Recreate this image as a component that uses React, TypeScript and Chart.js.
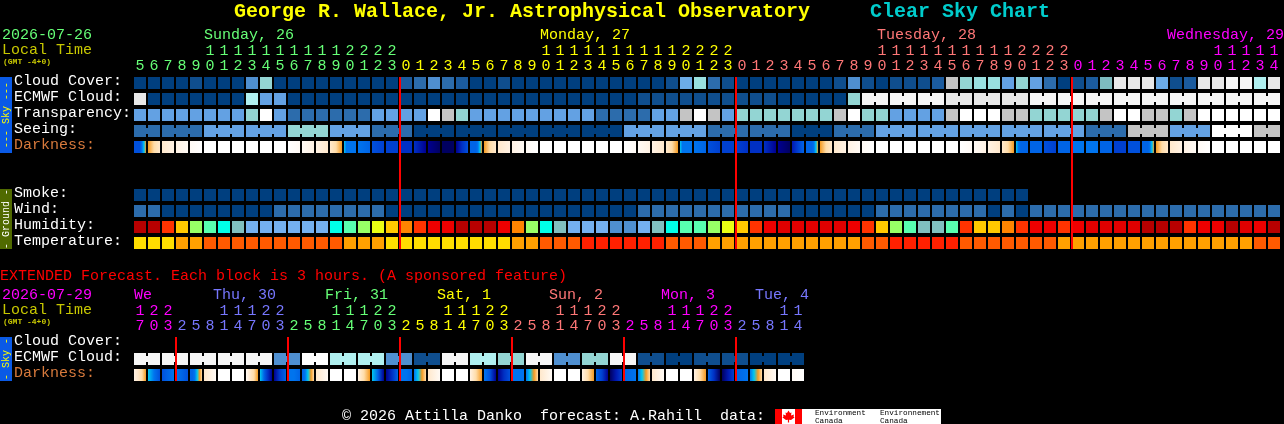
import React, { useEffect, useRef } from "react";
import { Chart, registerables } from "chart.js";

Chart.register(...registerables);

const MONO = '"Liberation Mono", "DejaVu Sans Mono", monospace';

// ---------- hours on the two time axes ----------
const mainHours = [
  5, 6, 7, 8, 9, 10, 11, 12, 13, 14, 15, 16, 17, 18, 19, 20, 21, 22, 23,
  0, 1, 2, 3, 4, 5, 6, 7, 8, 9, 10, 11, 12, 13, 14, 15, 16, 17, 18, 19, 20, 21, 22, 23,
  0, 1, 2, 3, 4, 5, 6, 7, 8, 9, 10, 11, 12, 13, 14, 15, 16, 17, 18, 19, 20, 21, 22, 23,
  0, 1, 2, 3, 4, 5, 6, 7, 8, 9, 10, 11, 12, 13, 14,
];
const extHours = [
  17, 20, 23, 2, 5, 8, 11, 14, 17, 20, 23, 2, 5, 8, 11, 14, 17, 20, 23, 2, 5, 8, 11, 14,
  17, 20, 23, 2, 5, 8, 11, 14, 17, 20, 23, 2, 5, 8, 11, 14, 17, 20, 23, 2, 5, 8, 11, 14,
];

// ---------- rows ----------
const mainRows = ["Cloud Cover:", "ECMWF Cloud:", "Transparency:", "Seeing:", "Darkness:", "", "", "Smoke:", "Wind:", "Humidity:", "Temperature:"];
const extRows = ["Cloud Cover:", "ECMWF Cloud:", "Darkness:"];

// ---------- sky condition levels (index into skyPalette) ----------
const cloudCover = [
  0, 0, 0, 0, 1, 0, 0, 0, 4, 8, 0, 0, 0, 0, 0, 0, 0, 0, 0, 2, 3, 4, 3, 2, 0, 0, 1,
  0, 0, 0, 0, 0, 0, 0, 0, 0, 0, 0, 1, 6, 9, 3, 1, 0, 0, 0, 0, 0, 0, 0, 1, 4, 1, 0,
  1, 1, 1, 2, 11, 8, 9, 9, 5, 8, 5, 3, 0, 1, 2, 7, 12, 12, 12, 6, 1, 2, 12, 12, 13, 13, 10, 12,
];
const ecmwfCloud = [
  12, 0, 0, 0, 0, 0, 0, 0, 10, 5, 5, 0, 0, 0, 0, 0, 0, 0, 0, 0, 0, 0, 0, 0, 0, 0, 0, 0,
  0, 0, 0, 0, 0, 0, 0, 0, 1, 1, 1, 1, 1, 1, 1, 1, 1, 1, 0, 0, 0, 0, 0, 8,
  13, 13, 13, 13, 13, 13, 12, 12, 12, 12, 12, 12,
  13, 13, 13, 13, 13, 13, 13, 13, 13, 13, 13, 13, 13, 13, 13, 13, 13, 13,
];
const ecmwfJoinedCols = [52, 54, 56, 58, 60, 62, 64, 66, 68, 70, 72, 74, 76, 78, 80];
const transparency = [
  5, 5, 5, 5, 5, 5, 5, 5, 8, 14, 5, 3, 3, 3, 3, 3, 3, 5, 5, 5, 5, 14, 11, 8,
  5, 5, 5, 5, 5, 5, 5, 5, 5, 3, 3, 3, 3, 5, 5, 11, 14, 11, 5, 8, 8, 8, 8, 8, 8, 8, 11, 14,
  8, 8, 5, 5, 5, 5, 11, 14, 14, 14, 11, 11, 8, 8, 8, 8, 8, 11, 14, 14, 11, 11, 8, 11,
  14, 14, 14, 14, 14, 14,
];
const seeingBlockSizes = [2, 3, 3, 3, 3, 3, 3, 3, 3, 3, 3, 3, 3, 3, 3, 3, 3, 3, 3, 3, 3, 3, 3, 3, 3, 3, 3, 2];
const seeingBlocks = [3, 3, 5, 5, 8, 5, 3, 0, 0, 0, 0, 0, 5, 5, 3, 3, 0, 3, 5, 5, 5, 5, 5, 3, 11, 5, 14, 11];
const smoke = [
  0, 0, 0, 0, 0, 0, 0, 0, 0, 0, 0, 0, 0, 0, 0, 0, 0, 0, 0, 0, 0, 0, 0, 0, 0, 0, 0, 0, 0, 0, 0, 0,
  0, 0, 0, 0, 0, 0, 0, 0, 0, 0, 0, 0, 0, 0, 0, 0, 0, 0, 0, 0, 0, 0, 0, 0, 0, 0, 0, 0, 0, 0, 0, 0,
];
const wind = [
  3, 3, 0, 0, 0, 0, 0, 0, 0, 0, 3, 3, 3, 3, 3, 3, 3, 3, 0, 0, 0, 0, 0, 0, 0, 0, 0, 0, 0, 0, 0, 0, 0, 0, 0, 0,
  3, 3, 3, 3, 3, 3, 3, 3, 3, 3, 3, 0, 0, 0, 0, 0, 0, 3, 3, 3, 3, 3, 3, 3, 3, 0, 3, 0,
  3, 3, 3, 3, 3, 3, 3, 3, 3, 3, 3, 3, 3, 3, 3, 3, 3, 3,
];
const humidity = [
  0, 0, 3, 5, 7, 8, 9, 10, 11, 11, 11, 11, 11, 11, 9, 8, 7, 6, 5, 4, 3,
  2, 2, 0, 0, 0, 2, 4, 7, 9, 10, 11, 11, 11, 12, 12, 11, 10, 9, 8, 8, 7, 6, 5, 3, 2,
  1, 1, 1, 1, 1, 2,
  3, 5, 7, 8, 10, 10, 8, 3, 5, 5, 4, 3, 2, 2, 3, 2, 1, 1, 1, 1, 0, 0, 0, 3, 2, 2, 0, 1, 2, 0,
];
const temperature = [
  0, 0, 0, 1, 1, 2, 2, 2, 2, 2, 2, 2, 2, 2, 2, 1, 1, 1, 0, 0, 0, 0, 0, 0, 0, 0, 0, 1, 1, 2, 2, 2,
  3, 3, 3, 3, 3, 3, 2, 2, 2, 1, 1, 1, 1, 1, 1, 1, 1, 1, 1, 1, 2, 2, 3, 3, 3, 3, 3, 2, 2, 2, 2, 2, 2, 2,
  1, 1, 1, 1, 1, 1, 1, 1, 1, 1, 1, 1, 1, 1, 2, 2,
];
// Each darkness cell is a run of levels (index into darkPalette) read left to right across the cell.
const darkness = [
  [5, 5, 5, 5, 7, 8, 9], [9, 10, 11], [11, 12], [12, 13], [13, 14], [14], [14], [14], [14], [14], [14],
  [14, 13], [13, 12], [12, 11], [11, 10, 9], [8, 7, 7, 7, 7, 7], [7, 6], [5, 4], [4, 4], [3, 3], [3, 1], [1, 0], [0, 0], [1, 3, 5],
  [6, 6, 6, 6, 7, 8, 9], [9, 10, 11], [11, 12], [12, 13], [13, 14], [14], [14], [14], [14], [14], [14],
  [14, 13], [13, 12], [12, 11], [11, 10, 9], [8, 7, 7, 7, 7, 7], [7, 6], [5, 4], [4, 4], [4, 3], [3, 3], [3, 1], [1, 0], [2, 4, 6],
  [6, 6, 6, 6, 7, 8, 9], [9, 10, 11], [11, 12], [12, 13], [13, 14], [14], [14], [14], [14], [14], [14],
  [14, 13], [13, 12], [12, 11], [11, 10, 9], [8, 7, 6, 6, 6, 6], [6, 6], [5, 4], [6, 6], [7, 7], [7, 7], [6, 6], [4, 4], [5, 5],
  [6, 6, 6, 6, 7, 8, 9], [9, 10, 11], [11, 12], [12, 13], [13, 14], [14], [14], [14], [14], [14],
];
const extEcmwfPairs = [13, 13, 13, 13, 13, 4, 14, 10, 10, 4, 1, 13, 10, 8, 13, 4, 8, 13, 1, 0, 1, 1, 0, 0];
const extDarkness = [
  [12, 11, 10, 9], [8, 7, 5], [5, 6, 7],
  [7, 6, 5], [6, 6, 7, 8, 9, 10], [11, 13], [14], [14], [13, 11, 10, 9], [8, 6, 3, 1], [1, 4, 6],
  [7, 7, 6], [6, 7, 8, 9, 10], [11, 13], [14], [14], [12, 10, 9], [8, 6, 1], [1, 3, 6],
  [7, 7, 6], [7, 8, 9, 10], [11, 13], [14], [14], [12, 10, 9], [7, 5, 1], [1, 3, 5],
  [7, 7], [7, 8, 9, 10], [11, 13], [14], [14], [12, 10, 9], [6, 4, 1], [0, 2, 4],
  [6, 7], [7, 8, 9, 10], [11, 13], [14], [14], [12, 10, 9], [6, 3, 0], [0, 2, 4],
  [6, 7], [7, 8, 9, 10], [11, 13], [14], [13, 14],
];

// ---------- midnight markers and day headers ----------
const mainMidnights = [19, 43, 67];
const extMidnights = [3, 11, 19, 27, 35, 43];
const mainDays = [
  { name: "Sunday, 26", start: 0, labelCol: 5, color: "#66ff77" },
  { name: "Monday, 27", start: 19, labelCol: 29, color: "#ffff00" },
  { name: "Tuesday, 28", start: 43, labelCol: 53.07, color: "#ff7777" },
  { name: "Wednesday, 29", start: 67, labelCol: 73.79, color: "#ff00ff" },
];
const extDays = [
  { name: "We", start: 0, labelCol: 0, color: "#ff00ff" },
  { name: "Thu, 30", start: 3, labelCol: 5.64, color: "#7777ff" },
  { name: "Fri, 31", start: 11, labelCol: 13.64, color: "#66ff77" },
  { name: "Sat, 1", start: 19, labelCol: 21.64, color: "#ffff00" },
  { name: "Sun, 2", start: 27, labelCol: 29.64, color: "#ff7777" },
  { name: "Mon, 3", start: 35, labelCol: 37.64, color: "#ff00ff" },
  { name: "Tue, 4", start: 43, labelCol: 44.36, color: "#7777ff" },
];

// ---------- palettes ----------
const skyPalette = ["#003f7f", "#0f4e8e", "#1b5b9e", "#2c6cac", "#4f8fd0", "#63a1e3", "#6cace8", "#7ebcc0", "#93d5d3", "#99e0e0", "#b0f0f0", "#c4c4c4", "#e8e8e8", "#f6f6f6", "#ffffff"];
const humidityPalette = ["#b80000", "#e00000", "#ee0000", "#ff3300", "#ff8400", "#ffc800", "#eaff14", "#98ff66", "#58ffb0", "#00ffe8", "#80bfbf", "#74b0f0", "#4f8fd0"];
const temperaturePalette = ["#ffdd00", "#ffa000", "#ff5a00", "#ff2000"];
const darkPalette = ["#000060", "#000090", "#0018b0", "#0030c4", "#0040d0", "#0050dc", "#0064e6", "#0074ee", "#00c8f0", "#f59a20", "#ffdca8", "#ffe8cc", "#fff2e4", "#fffaf5", "#ffffff"];

// ---------- geometry of the marks in scale units ----------
const CELL_PX = 12;
const GAP_PX = 2;
const CELL_HALF = 0.375;
const JOIN_HALF = 0.1875;
const LINE_SHIFT = 1 / 14;
const X_MIN = -0.5;
const X_MAX = 81 + 10 / 14;

const expandBlocks = (sizes: number[], values: number[]) => {
  const out: number[] = [];
  sizes.forEach((s, b) => { for (let k = 0; k < s; k++) out.push(values[b]); });
  return out;
};
const blockJoints = (sizes: number[]) => {
  const out: number[] = [];
  let c = 0;
  sizes.forEach((s) => { for (let k = 0; k < s - 1; k++) out.push(c + k); c += s; });
  return out;
};

const barBase = { grouped: false, inflateAmount: 0, borderWidth: 0, borderSkipped: false };

const cellSet = (values: number[], row: number, palette: string[]) => ({
  ...barBase, order: 3, barThickness: CELL_PX,
  data: values.map((_, i) => ({ x: i, y: [row - CELL_HALF, row + CELL_HALF] })),
  backgroundColor: values.map((v) => palette[v]),
});
const jointSet = (values: number[], cols: number[], row: number, palette: string[]) => ({
  ...barBase, order: 2, barThickness: GAP_PX,
  data: cols.map((c) => ({ x: c + 0.5, y: [row - JOIN_HALF, row + JOIN_HALF] })),
  backgroundColor: cols.map((c) => palette[values[c]]),
});
const darkSet = (cells: number[][], row: number) => ({
  ...barBase, order: 3, barThickness: CELL_PX,
  data: cells.map((_, i) => ({ x: i, y: [row - CELL_HALF, row + CELL_HALF] })),
  backgroundColor: (ctx: any) => {
    if (ctx.dataIndex === undefined) return "#000";
    const stops = cells[ctx.dataIndex];
    if (stops.length === 1) return darkPalette[stops[0]];
    const px = ctx.chart.scales.x.getPixelForValue(ctx.dataIndex);
    if (!Number.isFinite(px)) return darkPalette[stops[0]];
    const g = ctx.chart.ctx.createLinearGradient(px - CELL_PX / 2, 0, px + CELL_PX / 2, 0);
    stops.forEach((s: number, k: number) => g.addColorStop(k / (stops.length - 1), darkPalette[s]));
    return g;
  },
});
const midnightSet = (cols: number[], from: number, to: number) => ({
  ...barBase, order: 0, barThickness: GAP_PX,
  data: cols.map((c) => ({ x: c - 0.5 + LINE_SHIFT, y: [from - CELL_HALF, to + CELL_HALF] })),
  backgroundColor: "#ff0000",
});

const hourLabel = (h: number | undefined) => {
  if (h === undefined) return "";
  return h >= 10 ? [String(Math.floor(h / 10)), String(h % 10)] : ["", String(h)];
};
const dayColor = (days: { start: number; color: string }[], col: number) => {
  let c = days[0].color;
  days.forEach((d) => { if (col >= d.start) c = d.color; });
  return c;
};

type Txt = { t: string; x: number; y: number; c: string; f: string; align?: CanvasTextAlign };
type SideBar = { top: number; bottom: number; fill: string; text: string; color: string };

const overlayPlugin = (opts: { originY: number; texts: Txt[]; days: any[]; dayY: number; sides: SideBar[]; logo?: boolean }) => ({
  id: "overlay",
  afterDraw(chart: any) {
    const ctx: CanvasRenderingContext2D = chart.ctx;
    ctx.save();
    ctx.translate(0, -opts.originY);
    ctx.textBaseline = "middle";
    opts.sides.forEach((s) => {
      ctx.fillStyle = s.fill;
      ctx.fillRect(0, s.top, 12, s.bottom - s.top);
      ctx.save();
      ctx.translate(6, (s.top + s.bottom) / 2);
      ctx.rotate(-Math.PI / 2);
      ctx.textAlign = "center";
      ctx.font = `10px ${MONO}`;
      ctx.fillStyle = s.color;
      ctx.fillText(s.text, 0, 0);
      ctx.restore();
    });
    opts.texts.forEach((k) => {
      ctx.font = k.f;
      ctx.fillStyle = k.c;
      ctx.textAlign = k.align || "left";
      ctx.fillText(k.t, k.x, k.y);
    });
    ctx.font = `15px ${MONO}`;
    ctx.textAlign = "left";
    opts.days.forEach((d) => {
      ctx.fillStyle = d.color;
      ctx.fillText(d.name, chart.scales.x.getPixelForValue(d.labelCol) - CELL_PX / 2, opts.dayY);
    });
    if (opts.logo) {
      ctx.fillStyle = "#fff";
      ctx.fillRect(775, 409, 166, 15);
      ctx.fillStyle = "#f00";
      ctx.fillRect(775, 409, 7, 15);
      ctx.fillRect(795, 409, 7, 15);
      ctx.beginPath();
      const leaf = [[0, -6], [1.5, -3.5], [3, -4], [2.5, -1], [5.5, -2], [5, 0], [6, 1], [2.5, 3.5], [0.6, 3.2], [0.6, 6], [-0.6, 6], [-0.6, 3.2], [-2.5, 3.5], [-6, 1], [-5, 0], [-5.5, -2], [-2.5, -1], [-3, -4], [-1.5, -3.5]];
      leaf.forEach(([a, b], i) => (i ? ctx.lineTo(788.5 + a, 416.5 + b) : ctx.moveTo(788.5 + a, 416.5 + b)));
      ctx.closePath();
      ctx.fill();
      ctx.fillStyle = "#000";
      ctx.font = `7.7px ${MONO}`;
      ctx.fillText("Environment", 815, 413);
      ctx.fillText("Canada", 815, 420.5);
      ctx.fillText("Environnement", 880, 413);
      ctx.fillText("Canada", 880, 420.5);
    }
    ctx.restore();
  },
});

const buildOptions = (cfg: { hours: number[]; days: any[]; rows: string[]; areaTop: number; bottomPad: number; tickPad: number }) => ({
  responsive: false,
  animation: false as const,
  devicePixelRatio: 1,
  events: [],
  layout: { padding: { left: 14, top: 0, right: 0, bottom: cfg.bottomPad } },
  plugins: { legend: { display: false }, tooltip: { enabled: false }, title: { display: false } },
  scales: {
    x: {
      type: "linear" as const,
      position: "top" as const,
      offset: false,
      min: X_MIN,
      max: X_MAX,
      afterFit: (s: any) => { s.height = cfg.areaTop; },
      afterBuildTicks: (s: any) => { s.ticks = cfg.hours.map((_, i) => ({ value: i })); },
      grid: { display: false, drawTicks: false },
      border: { display: false },
      ticks: {
        stepSize: 1,
        autoSkip: false,
        maxRotation: 0,
        minRotation: 0,
        padding: cfg.tickPad,
        font: { family: MONO, size: 15, lineHeight: 1 },
        color: (c: any) => dayColor(cfg.days, c.tick ? c.tick.value : 0),
        callback: (v: any) => hourLabel(cfg.hours[v]),
      },
    },
    y: {
      type: "linear" as const,
      reverse: true,
      min: -0.5,
      max: cfg.rows.length - 0.5,
      afterFit: (s: any) => { s.width = 119; },
      afterBuildTicks: (s: any) => { s.ticks = cfg.rows.map((_, i) => ({ value: i })); },
      grid: { display: false, drawTicks: false },
      border: { display: false },
      ticks: {
        stepSize: 1,
        autoSkip: false,
        crossAlign: "far" as const,
        padding: 0,
        labelOffset: -1.5,
        font: { family: MONO, size: 15 },
        color: (c: any) => (c.tick && cfg.rows[c.tick.value] === "Darkness:" ? "#d87a3c" : "#ffffff"),
        callback: (v: any) => cfg.rows[v] ?? "",
      },
    },
  },
});

const TITLE = `bold 20px ${MONO}`;
const TEXT = `15px ${MONO}`;
const TINY = `bold 8px ${MONO}`;

export default function App() {
  const mainRef = useRef<HTMLCanvasElement>(null);
  const extRef = useRef<HTMLCanvasElement>(null);

  useEffect(() => {
    document.body.style.margin = "0";
    document.body.style.background = "#000";

    const seeing = expandBlocks(seeingBlockSizes, seeingBlocks);
    const main = new Chart(mainRef.current!, {
      type: "bar",
      data: {
        datasets: [
          midnightSet(mainMidnights, 0, 10),
          cellSet(cloudCover, 0, skyPalette),
          cellSet(ecmwfCloud, 1, skyPalette),
          jointSet(ecmwfCloud, ecmwfJoinedCols, 1, skyPalette),
          cellSet(transparency, 2, skyPalette),
          cellSet(seeing, 3, skyPalette),
          jointSet(seeing, blockJoints(seeingBlockSizes), 3, skyPalette),
          darkSet(darkness, 4),
          cellSet(smoke, 7, skyPalette),
          cellSet(wind, 8, skyPalette),
          cellSet(humidity, 9, humidityPalette),
          cellSet(temperature, 10, temperaturePalette),
        ] as any,
      },
      options: buildOptions({ hours: mainHours, days: mainDays, rows: mainRows, areaTop: 75, bottomPad: 11, tickPad: 1 }) as any,
      plugins: [
        overlayPlugin({
          originY: 0,
          days: mainDays,
          dayY: 35,
          sides: [
            { top: 77, bottom: 153, fill: "#0a5ae6", text: "--- Sky ---", color: "#ffff00" },
            { top: 189, bottom: 249, fill: "#506a00", text: "- Ground -", color: "#ffffff" },
          ],
          texts: [
            { t: "George R. Wallace, Jr. Astrophysical Observatory", x: 234, y: 12, c: "#ffff00", f: TITLE },
            { t: "Clear Sky Chart", x: 870, y: 12, c: "#00cccc", f: TITLE },
            { t: "2026-07-26", x: 2, y: 35, c: "#66ff77", f: TEXT },
            { t: "Local Time", x: 2, y: 50, c: "#c8c800", f: TEXT },
            { t: "(GMT -4+0)", x: 3, y: 62, c: "#c8c800", f: TINY },
          ],
        }) as any,
      ],
    });

    const extBlockSizes = extEcmwfPairs.map(() => 2);
    const extEcmwf = expandBlocks(extBlockSizes, extEcmwfPairs);
    const ext = new Chart(extRef.current!, {
      type: "bar",
      data: {
        datasets: [
          midnightSet(extMidnights, 0, 2),
          cellSet(extEcmwf, 1, skyPalette),
          jointSet(extEcmwf, blockJoints(extBlockSizes), 1, skyPalette),
          darkSet(extDarkness, 2),
        ] as any,
      },
      options: buildOptions({ hours: extHours, days: extDays, rows: extRows, areaTop: 73, bottomPad: 41, tickPad: 1 }) as any,
      plugins: [
        overlayPlugin({
          originY: 262,
          days: extDays,
          dayY: 295,
          logo: true,
          sides: [{ top: 337, bottom: 381, fill: "#0a5ae6", text: "- Sky -", color: "#ffff00" }],
          texts: [
            { t: "EXTENDED Forecast. Each block is 3 hours. (A sponsored feature)", x: 0, y: 276, c: "#ff0000", f: TEXT },
            { t: "2026-07-29", x: 2, y: 295, c: "#ff00ff", f: TEXT },
            { t: "Local Time", x: 2, y: 310, c: "#c8c800", f: TEXT },
            { t: "(GMT -4+0)", x: 3, y: 322, c: "#c8c800", f: TINY },
            { t: "\u00a9 2026 Attilla Danko  forecast: A.Rahill  data:", x: 342, y: 416, c: "#ffffff", f: TEXT },
          ],
        }) as any,
      ],
    });

    return () => {
      main.destroy();
      ext.destroy();
    };
  }, []);

  return (
    <div style={{ position: "fixed", left: 0, top: 0, width: 1284, height: 424, background: "#000", overflow: "hidden" }}>
      <canvas ref={mainRef} width={1284} height={262} style={{ position: "absolute", left: 0, top: 0, display: "block" }} />
      <canvas ref={extRef} width={1284} height={162} style={{ position: "absolute", left: 0, top: 262, display: "block" }} />
    </div>
  );
}
